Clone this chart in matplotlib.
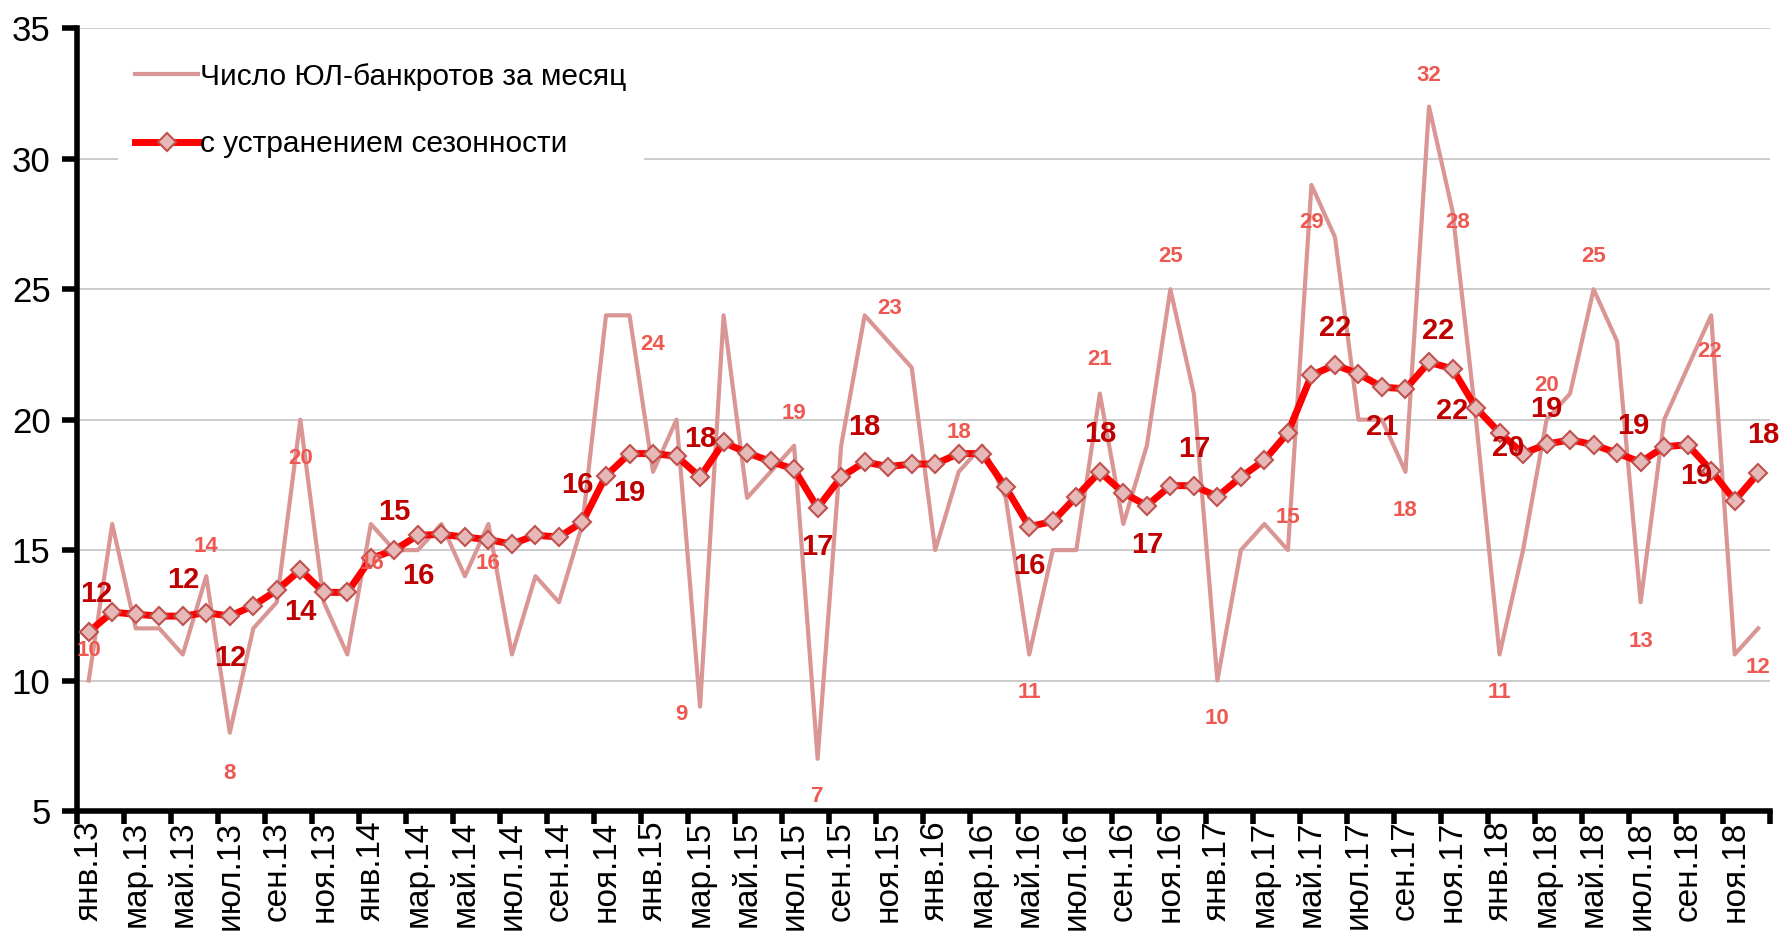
import matplotlib.pyplot as plt

plt.rcParams['font.family'] = ['Liberation Sans', 'DejaVu Sans']

month_names = ['янв.', 'фев.', 'мар.', 'апр.', 'май.', 'июн.',
               'июл.', 'авг.', 'сен.', 'окт.', 'ноя.', 'дек.']
years = ['13', '14', '15', '16', '17', '18']
months = [m + y for y in years for m in month_names]

raw = [10, 16, 12, 12, 11, 14, 8, 12, 13, 20, 13, 11,
       16, 15, 15, 16, 14, 16, 11, 14, 13, 16, 24, 24,
       18, 20, 9, 24, 17, 18, 19, 7, 19, 24, 23, 22,
       15, 18, 19, 17, 11, 15, 15, 21, 16, 19, 25, 21,
       10, 15, 16, 15, 29, 27, 20, 20, 18, 32, 28, 20,
       11, 15, 20, 21, 25, 23, 13, 20, 22, 24, 11, 12]

sa = [11.86, 12.62, 12.54, 12.47, 12.47, 12.6, 12.47, 12.87, 13.46, 14.24, 13.38, 13.38,
      14.68, 15.0, 15.57, 15.6, 15.5, 15.4, 15.23, 15.57, 15.5, 16.08, 17.85, 18.7,
      18.7, 18.6, 17.8, 19.13, 18.73, 18.4, 18.1, 16.62, 17.8, 18.38, 18.2, 18.3,
      18.3, 18.7, 18.7, 17.4, 15.9, 16.1, 17.05, 18.0, 17.2, 16.7, 17.47, 17.47,
      17.05, 17.8, 18.45, 19.5, 21.7, 22.1, 21.76, 21.25, 21.18, 22.2, 21.95, 20.45,
      19.5, 18.7, 19.06, 19.23, 19.04, 18.72, 18.37, 18.96, 19.04, 18.05, 16.9, 17.95]

# labelled points: month index and label offset (months, units)
raw_labels = [(0, 0, 1.15), (5, 0, 1.15), (6, 0, -1.55), (9, 0, -1.5), (12, 0.05, -1.5),
              (17, 0, -1.5), (23, 1.0, -1.1), (26, -0.8, -0.3), (30, 0, 1.25), (31, 0, -1.45),
              (34, 0.05, 1.25), (37, 0, 1.5), (40, 0, -1.45), (43, 0, 1.3), (46, 0, 1.25),
              (48, 0, -1.45), (51, 0, 1.25), (52, 0, -1.45), (56, 0, -1.5), (57, 0, 1.2),
              (58, 0.2, -0.45), (60, 0, -1.45), (62, 0, 1.3), (64, 0, 1.25), (66, 0, -1.5),
              (68, 0.95, 0.6), (71, 0, -1.5)]
sa_labels = [(0, 0.3, 1.45), (4, 0, 1.4), (6, 0, -1.6), (9, 0, -1.6), (13, 0, 1.45),
             (14, 0, -1.55), (21, -0.2, 1.4), (23, 0, -1.5), (26, 0, 1.45), (31, 0, -1.5),
             (33, 0, 1.35), (40, 0, -1.5), (43, 0, 1.45), (45, 0, -1.5), (47, 0, 1.4),
             (53, 0, 1.4), (55, 0, -1.55), (57, 0.4, 1.2), (58, 0, -1.6), (60, 0.35, -0.6),
             (62, 0, 1.35), (65, 0.7, 1.05), (68, 0.35, -1.2), (71, 0.2, 1.45)]

x = list(range(len(months)))

fig = plt.figure(figsize=(17.81, 9.33), dpi=100)
ax = fig.add_axes([0.0432, 0.1308, 0.9506, 0.8388])

ax.plot(x, raw, color='#D99694', linewidth=3, label='Число ЮЛ-банкротов за месяц', zorder=3)
ax.plot(x, sa, color='#FF0000', linewidth=5, marker='D', markersize=9,
        markerfacecolor='#E6B9B8', markeredgecolor='#C0504D', markeredgewidth=1.5,
        label='с устранением сезонности', zorder=4)

for i, dx, dy in raw_labels:
    ax.text(i + dx, raw[i] + dy, f'{raw[i]:.0f}', color='#EE5850', fontsize=16,
            fontweight='bold', ha='center', va='center', zorder=5)
for i, dx, dy in sa_labels:
    ax.text(i + dx, sa[i] + dy, f'{sa[i]:.0f}', color='#C00000', fontsize=21,
            fontweight='bold', ha='center', va='center', zorder=6)

ax.set_xlim(-0.5, len(months) - 0.5)
ax.set_ylim(5, 35)
ax.set_yticks(range(5, 36, 5))
ax.set_xticks(x[::2])
ax.set_xticklabels(months[::2], rotation=90)
ax.set_xticks([k - 0.5 for k in range(0, len(months) + 1, 2)], minor=True)

ax.tick_params(axis='x', which='major', length=0, pad=7, labelsize=24)
ax.tick_params(axis='x', which='minor', length=9, width=4, direction='out')
ax.tick_params(axis='y', length=11, width=4, direction='out', pad=8, labelsize=25)

ax.grid(axis='y', color='#C8C8C8', linewidth=1.3, zorder=0)
ax.set_axisbelow(True)
for side in ['top', 'right']:
    ax.spines[side].set_visible(False)
for side in ['left', 'bottom']:
    ax.spines[side].set_linewidth(4)
    ax.spines[side].set_color('black')

leg = ax.legend(loc='upper left', bbox_to_anchor=(0.024, 0.979), fontsize=21.5,
                frameon=True, facecolor='white', edgecolor='none', framealpha=1,
                handlelength=2.1, handletextpad=0.07, labelspacing=1.33,
                borderpad=0.6, borderaxespad=0)
leg.set_zorder(10)

fig.savefig('out.png', dpi=100)
